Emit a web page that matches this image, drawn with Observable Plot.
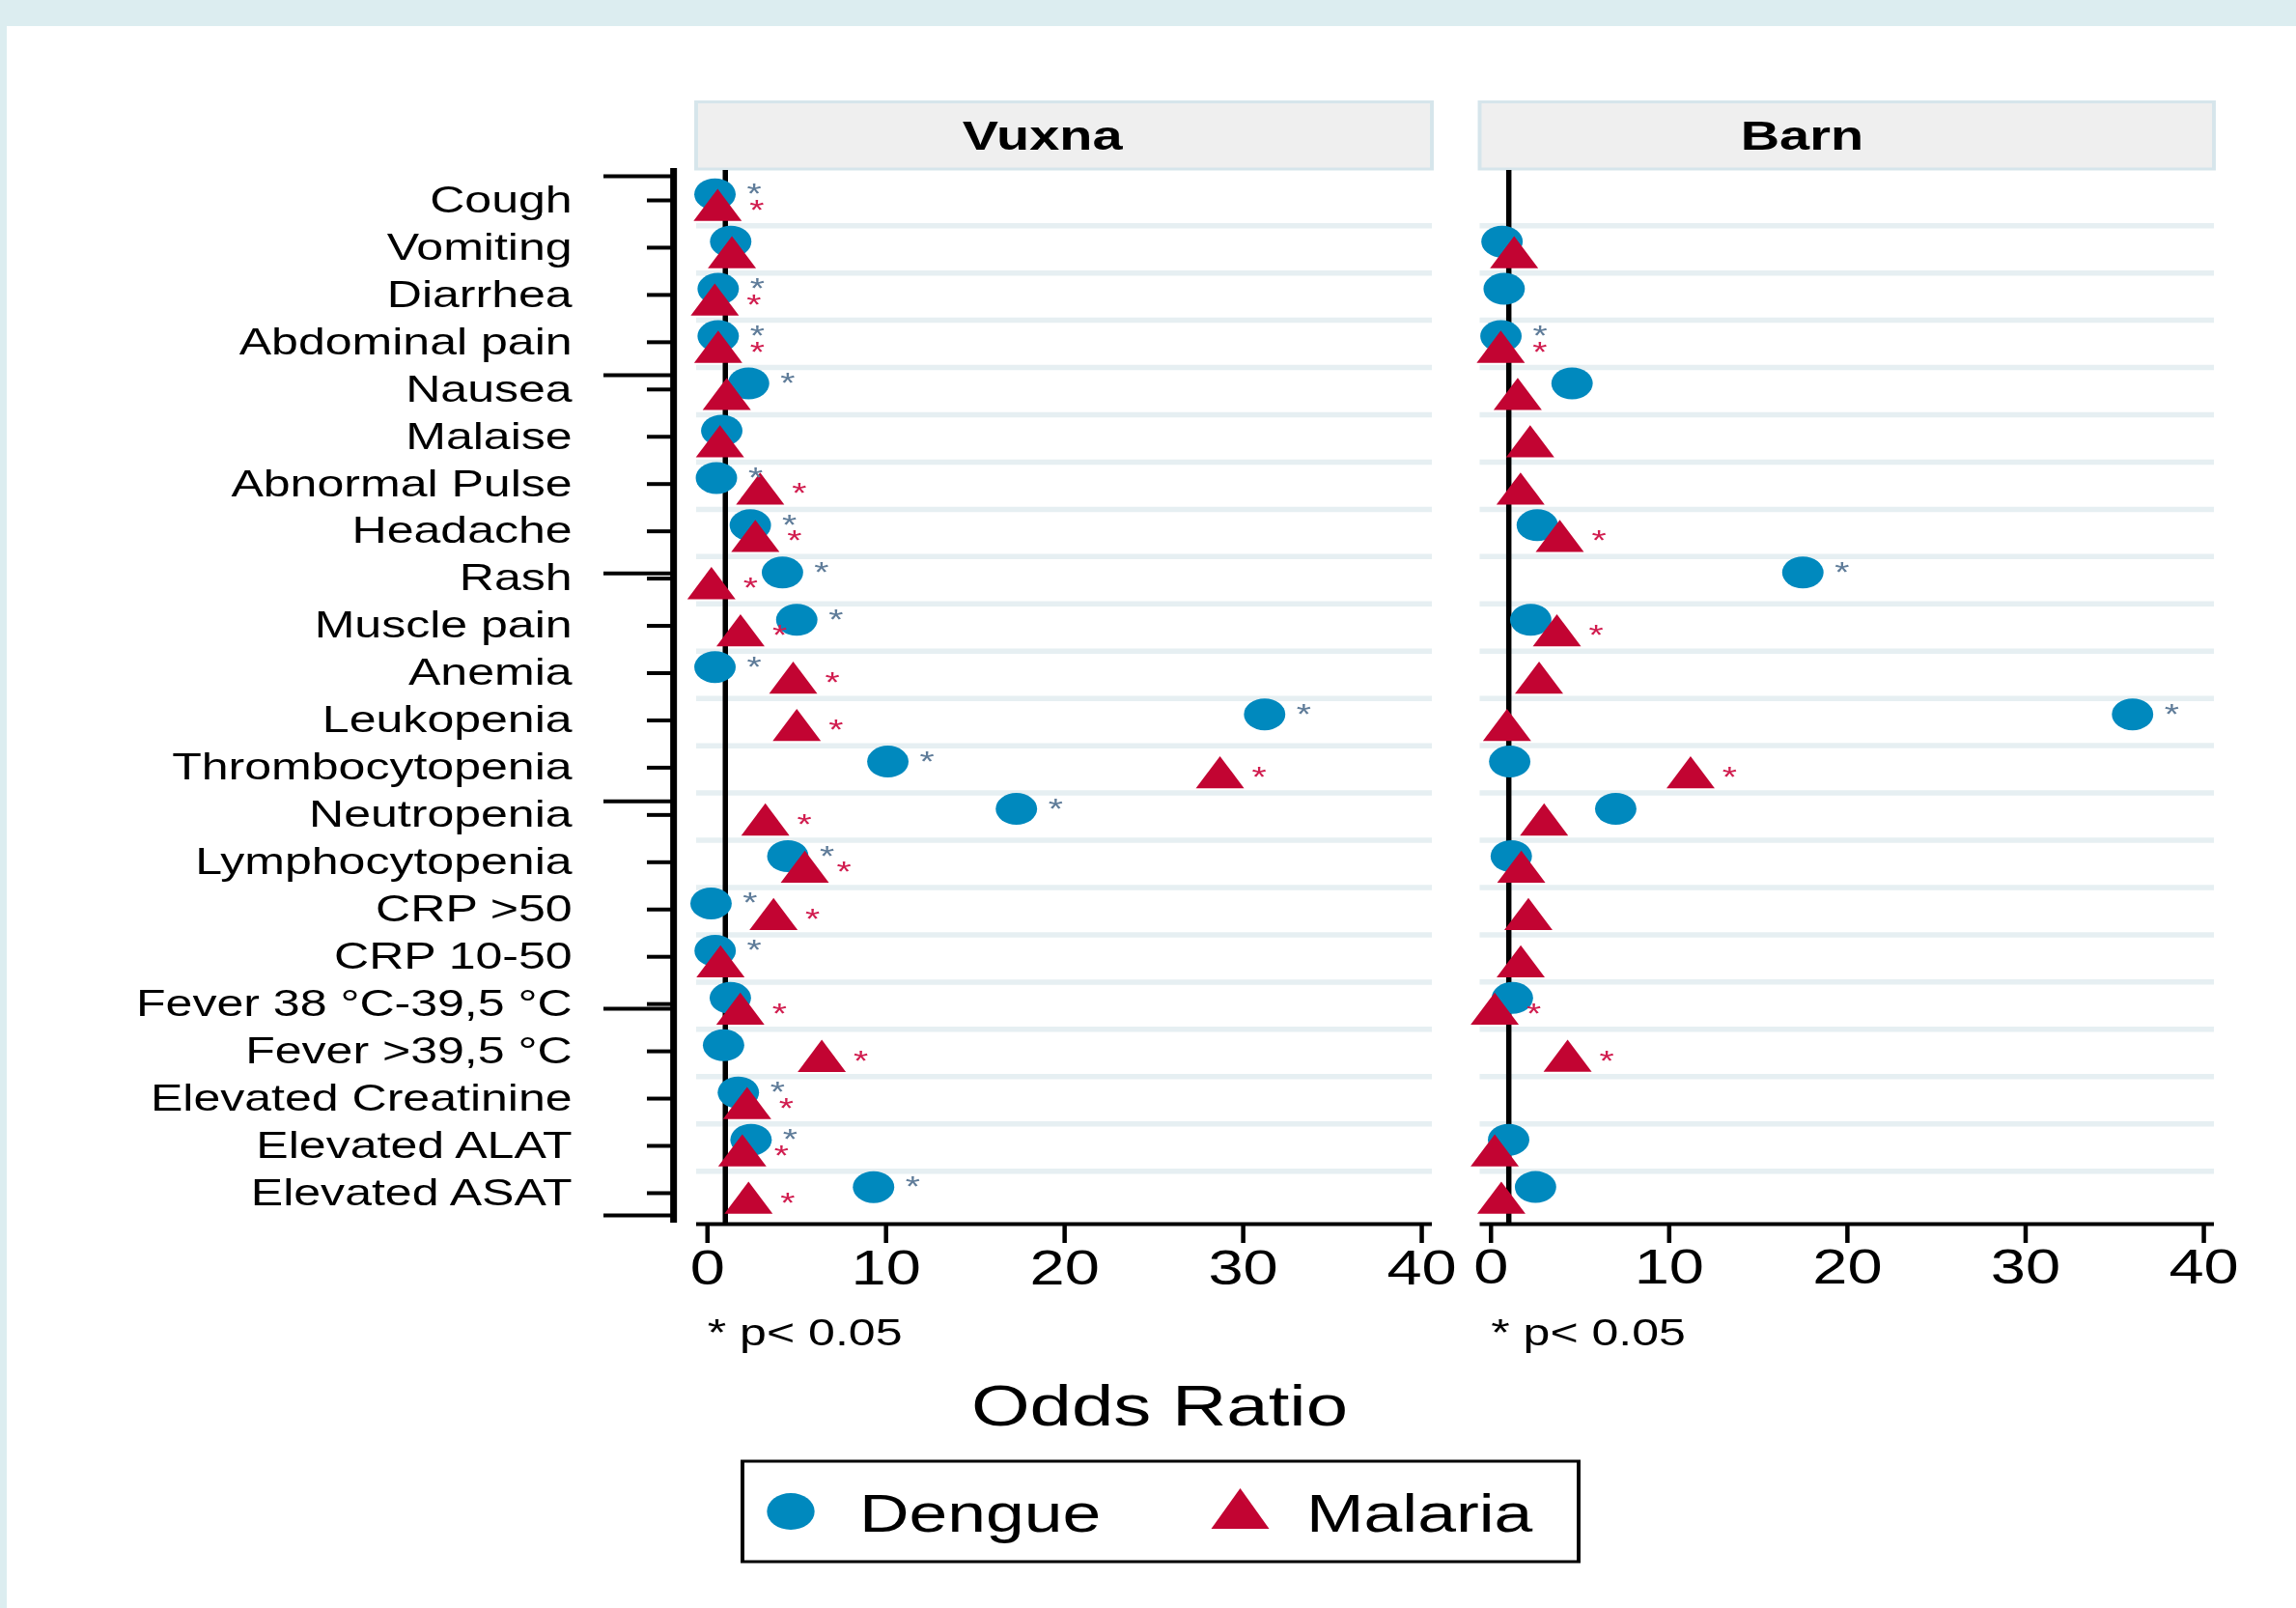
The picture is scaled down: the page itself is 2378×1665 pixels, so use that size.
<!DOCTYPE html>
<html>
<head>
<meta charset="utf-8">
<script src="https://cdn.jsdelivr.net/npm/d3@7"></script>
<script src="https://cdn.jsdelivr.net/npm/@observablehq/plot@0.6"></script>
<style>
html, body { margin: 0; padding: 0; background: #ffffff; width: 2378px; height: 1665px; overflow: hidden;
  font-family: 'Liberation Sans', Arial, Helvetica, sans-serif; }
#band { position: absolute; left: 0; top: 0; width: 2378px; height: 27px; background: #dcedf0; z-index: 3; }
#strip { position: absolute; left: 0; top: 0; width: 7px; height: 1665px; background: #dcedf0; z-index: 3; }
#wrap { position: absolute; left: 0; top: 0; transform-origin: 0 0; }
#panels { display: flex; flex-direction: row; align-items: flex-start; }
#panels svg { display: block; flex: none; }
#overlay { position: absolute; left: 0; top: 0; pointer-events: none; }
</style>
</head>
<body>
<div id="band"></div>
<div id="strip"></div>
<div id="wrap"><div id="panels"></div></div>
<script>
// ---------------- data ----------------
const categories = [
  "Cough", "Vomiting", "Diarrhea", "Abdominal pain", "Nausea", "Malaise",
  "Abnormal Pulse", "Headache", "Rash", "Muscle pain", "Anemia", "Leukopenia",
  "Thrombocytopenia", "Neutropenia", "Lymphocytopenia", "CRP >50", "CRP 10-50",
  "Fever 38 °C-39,5 °C", "Fever >39,5 °C", "Elevated Creatinine", "Elevated ALAT", "Elevated ASAT"
];
const panels = ["Vuxna", "Barn"];
const seriesNames = ["Dengue", "Malaria"];

// Odds ratios (null = not shown)
const vuxnaDengue  = [0.42, 1.3, 0.6, 0.6, 2.3, 0.8, 0.5, 2.4, 4.2, 5.0, 0.42, 31.2, 10.1, 17.3, 4.5, 0.2, 0.43, 1.28, 0.9, 1.73, 2.44, 9.3];
const vuxnaMalaria = [0.57, 1.37, 0.41, 0.6, 1.08, 0.7, 2.95, 2.68, 0.22, 1.85, 4.8, 5.0, 28.7, 3.24, 5.45, 3.7, 0.73, 1.84, 6.4, 2.22, 1.95, 2.3];
const barnDengue   = [null, 0.62, 0.74, 0.56, 4.55, null, null, 2.6, 17.5, 2.23, null, 36.0, 1.05, 7.0, 1.14, null, null, 1.2, null, null, 0.99, 2.5];
const barnMalaria  = [null, 1.3, null, 0.55, 1.5, 2.2, 1.66, 3.86, null, 3.7, 2.7, 0.9, 11.2, 2.98, 1.7, 2.1, 1.67, 0.21, 4.3, null, 0.21, 0.58];

// significance (1 = p < 0.05)
const vuxnaDengueSig  = [1,0,1,1,1,0,1,1,1,1,1,1,1,1,1,1,1,0,0,1,1,1];
const vuxnaMalariaSig = [1,0,1,1,0,0,1,1,1,1,1,1,1,1,1,1,0,1,1,1,1,1];
const barnDengueSig   = [0,0,0,1,0,0,0,0,1,0,0,1,0,0,0,0,0,0,0,0,0,0];
const barnMalariaSig  = [0,0,0,1,0,0,0,1,0,1,0,0,1,0,0,0,0,1,1,0,0,0];

const xTicks = [0, 10, 20, 30, 40];
const noteText = "* p< 0.05";
const axisTitle = "Odds Ratio";
// extra long ticks on the left axis (in category-row units)
const longTicks = [-0.51, 3.70, 7.89, 12.71, 17.10, 21.47];

// ---------------- layout ----------------
const S = 1.3;                       // horizontal stretch of the original figure
const u = px => px / S;
const rowTop = 207, rowStep = 48.95;
const yIdx = px => (px - rowTop) / rowStep;
const H = 1410;
const xDomain = [-0.6, 40.6];
const colors = {
  dengue: "#0089be", malaria: "#c20432", dStar: "#5f7c99", mStar: "#d11d4f",
  grid: "#e6eff2", headFill: "#efefef", headStroke: "#d6e5eb"
};
const FONT = "'Liberation Sans', Arial, Helvetica, sans-serif";

function makePanel(name, dengue, malaria, dSig, mSig, cfg) {
  const {svgLeft, svgRight, left, right, withAxis, headDx} = cfg;
  const pxPerUnit = (right - left) / (xDomain[1] - xDomain[0]);
  const xFromPx = px => xDomain[0] + (px - left) / pxPerUnit;
  const toRows = (vals, sig) => vals.map((v, i) => ({index: i, value: v, sig: !!sig[i]})).filter(d => d.value != null);
  const dRows = toRows(dengue, dSig);
  const mRows = toRows(malaria, mSig);
  const dDy = -6.3, mDy = 10.2, starDy = -0.6;
  const marks = [
    Plot.rect([name], {x1: xDomain[0], x2: xDomain[1], y1: yIdx(105.5), y2: yIdx(175),
      fill: colors.headFill, stroke: colors.headStroke, strokeWidth: 3}),
    Plot.text([name], {x: (xDomain[0] + xDomain[1]) / 2, y: yIdx(141), text: d => d,
      fontSize: 43, fontWeight: "bold", dx: u(headDx), fill: "#000"}),
    Plot.ruleY(d3.range(categories.length - 1).map(k => k + 0.535), {y: d => d, x1: xDomain[0], x2: xDomain[1],
      stroke: colors.grid, strokeWidth: 5.5}),
    Plot.ruleX([1], {x: d => d, y1: yIdx(176), y2: yIdx(1266), stroke: "#000", strokeWidth: u(5.5)}),
    Plot.ruleY([yIdx(1267)], {y: d => d, x1: xDomain[0], x2: xDomain[1], stroke: "#000", strokeWidth: 4}),
    Plot.ruleX(xTicks, {x: d => d, y1: yIdx(1267), y2: yIdx(1287), stroke: "#000", strokeWidth: u(4.5)}),
    Plot.text(xTicks, {x: d => d, y: yIdx(1313), text: d => String(d), fontSize: 50, fill: "#000"}),
    Plot.text([noteText], {x: 0, y: yIdx(1380), text: d => d, textAnchor: "start", fontSize: 38.5, fill: "#000"}),
    Plot.dot(dRows, {x: "value", y: "index", r: 16.5, fill: colors.dengue, dy: dDy}),
    Plot.dot(mRows, {x: "value", y: "index", r: 14.27, symbol: "triangle", fill: colors.malaria, dy: mDy}),
    Plot.text(dRows.filter(d => d.sig), {x: "value", y: "index", text: () => "*", dx: u(40.5), dy: dDy + starDy,
      fontSize: 30, fill: colors.dStar}),
    Plot.text(mRows.filter(d => d.sig), {x: "value", y: "index", text: () => "*", dx: u(40.5), dy: mDy + starDy,
      fontSize: 30, fill: colors.mStar})
  ];
  if (withAxis) {
    const axisX = xFromPx(697);
    marks.push(
      Plot.ruleX([axisX], {x: d => d, y1: yIdx(174), y2: yIdx(1266), stroke: "#000", strokeWidth: u(7)}),
      Plot.ruleY(d3.range(categories.length), {y: d => d, x1: xFromPx(670), x2: axisX, stroke: "#000", strokeWidth: 4}),
      Plot.ruleY(longTicks, {y: d => d, x1: xFromPx(625), x2: axisX, stroke: "#000", strokeWidth: 4}),
      Plot.text(categories, {x: xFromPx(592), y: (d, i) => i, text: d => d, textAnchor: "end",
        fontSize: 38.5, fill: "#000"})
    );
  }
  return Plot.plot({
    width: u(svgRight - svgLeft),
    height: H,
    marginLeft: 0, marginRight: 0, marginTop: 0, marginBottom: 0,
    x: {domain: xDomain, range: [u(left - svgLeft), u(right - svgLeft)], axis: null},
    y: {domain: [yIdx(176), yIdx(1266)], range: [176, 1266], axis: null},
    style: {fontFamily: FONT, background: "transparent", overflow: "visible", maxWidth: "none"},
    marks
  });
}

const wrap = document.getElementById("wrap");
wrap.style.width = u(2378) + "px";
wrap.style.height = "1665px";
wrap.style.transform = `scaleX(${S})`;

const host = document.getElementById("panels");
host.appendChild(makePanel(panels[0], vuxnaDengue, vuxnaMalaria, vuxnaDengueSig, vuxnaMalariaSig,
  {svgLeft: 0, svgRight: 1508, left: 721, right: 1483, withAxis: true, headDx: -23}));
host.appendChild(makePanel(panels[1], barnDengue, barnMalaria, barnDengueSig, barnMalariaSig,
  {svgLeft: 1508, svgRight: 2378, left: 1532.5, right: 2293, withAxis: false, headDx: -47}));

// axis title and legend
const ov = d3.select(wrap).append("svg").attr("id", "overlay")
  .attr("width", u(2378)).attr("height", 1665)
  .style("font-family", FONT);
ov.append("text").attr("x", u(1201)).attr("y", 1476).attr("text-anchor", "middle")
  .attr("font-size", 60).attr("fill", "#000").text(axisTitle);
ov.append("rect").attr("x", u(769)).attr("y", 1513).attr("width", u(1635 - 769)).attr("height", 104)
  .attr("fill", "#fff").attr("stroke", "#000").attr("stroke-width", 3);
ov.append("circle").attr("cx", u(819)).attr("cy", 1565).attr("r", 19).attr("fill", colors.dengue);
ov.append("text").attr("x", u(890)).attr("y", 1586).attr("font-size", 55).attr("fill", "#000").text(seriesNames[0]);
const tcx = u(1284.5);
ov.append("path").attr("d", `M${tcx},1541L${tcx - u(30)},1583L${tcx + u(30)},1583Z`).attr("fill", colors.malaria);
ov.append("text").attr("x", u(1353)).attr("y", 1586).attr("font-size", 55).attr("fill", "#000").text(seriesNames[1]);
</script>
</body>
</html>
